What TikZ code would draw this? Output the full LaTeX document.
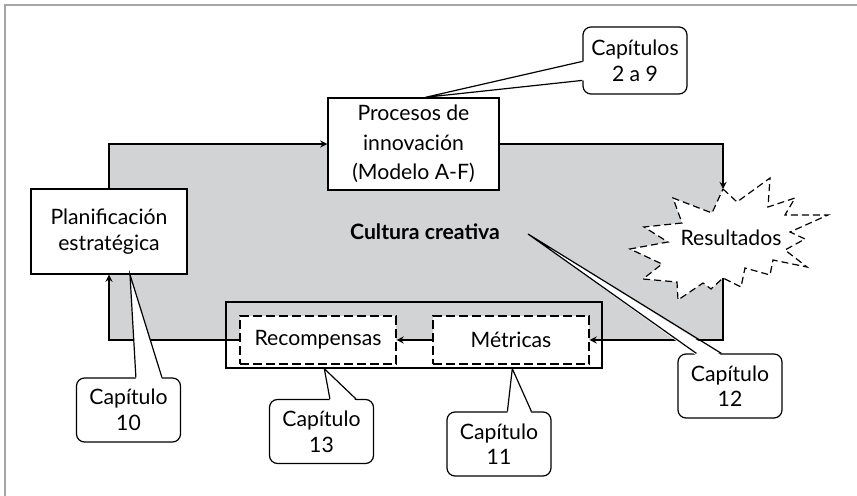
\documentclass[tikz,border=0pt]{standalone}
\usepackage{fontspec}
\setmainfont{Lato}
\usetikzlibrary{positioning,calc,backgrounds}

\definecolor{cultgray}{RGB}{210,211,213}
\definecolor{framegray}{RGB}{165,165,165}
\newcommand{\figfont}{\fontsize{10.6pt}{12.8pt}\selectfont}

\tikzset{
  box/.style={draw, fill=white, line width=0.7pt, align=center, inner sep=0pt},
  dashbox/.style={box, line width=0.6pt, dash pattern=on 4.5pt off 2pt},
  callbox/.style={draw, fill=white, rounded corners=4pt, line width=0.6pt,
    align=center, inner sep=0pt, minimum width=52pt, minimum height=32pt},
  burst/.style={draw, fill=white, line width=0.6pt, dash pattern=on 3.5pt off 2pt}
}

% white wedge from a callout box to its target
\newcommand{\calloutptr}[4]{%
  \fill[white] ($(#1)+#4$) -- (#2) -- ($(#3)+#4$) -- cycle;
  \draw[line width=0.6pt] (#1) -- (#2) -- (#3);}

\begin{document}
\begin{tikzpicture}[x=0.5pt, y=-0.5pt, >=stealth, line width=0.6pt, font=\figfont]
  \useasboundingbox (0,0) rectangle (857,496);
  \draw[framegray, line width=0.75pt] (5,496) -- (5,5) -- (857,5);

  % Nodes
  \node[box, minimum width=78pt, minimum height=42.5pt] (plan) at (109,231.5) {Planificación\\estratégica};
  \node[box, minimum width=85.5pt, minimum height=46pt] (proc) at (413.5,144) {Procesos de\\[2pt]innovación\\[2pt](Modelo A-F)};
  \node[draw, line width=0.7pt, minimum width=188pt, minimum height=33pt] (grp) at (414,335) {};
  \node[dashbox, minimum width=78pt, minimum height=24pt] (recomp) at (318,340) {Recompensas};
  \node[dashbox, minimum width=78pt, minimum height=24pt] (metr) at (511,340) {Métricas};
  \node[inner sep=0pt, font=\figfont\bfseries] (cult) at (425,232) {Cultura creativa};
  \node (res) at (731,238) {Resultados};
  \coordinate (res-top) at (723,189);
  \coordinate (res-bot) at (723,278);

  % Callouts
  \node[callbox, minimum height=33.5pt] (c29) at (635,60.5) {Capítulos\\2 a 9};
  \node[callbox] (c10) at (128.5,410) {Capítulo\\10};
  \node[callbox] (c13) at (321.5,431.5) {Capítulo\\13};
  \node[callbox] (c11) at (499,444) {Capítulo\\11};
  \node[callbox] (c12) at (730,386) {Capítulo\\12};

  % Background: culture area and burst
  \begin{scope}[on background layer]
    \fill[cultgray] (plan.north |- proc.west) rectangle (res-bot |- metr.east);
    \draw[burst] (res-top) -- (737,202) -- (770,178) -- (768,207) -- (795,198)
      -- (785,215) -- (828,215) -- (790,232) -- (805,239) -- (785,250)
      -- (807,267) -- (773,260) -- (770,275) -- (745,268) -- (741,287)
      -- (res-bot) -- (711,289) -- (703,283) -- (678,300) -- (677,282)
      -- (643,279) -- (662,264) -- (630,249) -- (668,242) -- (644,227)
      -- (682,223) -- (673,198) -- (712,213) -- cycle;
  \end{scope}

  % Cycle arrows
  \draw[->] (plan.north) |- (proc.west);
  \draw[->] (proc.east) -| (res-top);
  \draw[->] (res-bot) |- (metr.east);
  \draw[->] (metr.west) -- (recomp.east);
  \draw[->] (recomp.west) -| (plan.south);

  % Pointers
  \coordinate (proc-tip) at ($(proc.north)+(12,0)$);
  \coordinate (plan-tip) at ($(plan.south)+(21,0)$);
  \coordinate (grp-tip13) at ($(grp.south west)+(99,0)$);
  \coordinate (grp-tip11) at ($(grp.south west)+(287,0)$);
  \coordinate (cult-tip) at (528,234);
  \coordinate (p29a) at ($(c29.north west)+(0,35)$);
  \coordinate (p29b) at ($(c29.north west)+(0,54)$);
  \coordinate (p10a) at ($(c10.north west)+(60,0)$);
  \coordinate (p10b) at ($(c10.north west)+(86,0)$);
  \coordinate (p13a) at ($(c13.north west)+(61,0)$);
  \coordinate (p13b) at ($(c13.north west)+(87,0)$);
  \coordinate (p11a) at ($(c11.north west)+(61,0)$);
  \coordinate (p11b) at ($(c11.north west)+(85,0)$);
  \coordinate (p12a) at ($(c12.north west)+(19,0)$);
  \coordinate (p12b) at ($(c12.north west)+(44,0)$);
  \calloutptr{p29a}{proc-tip}{p29b}{(2,0)}
  \calloutptr{p10a}{plan-tip}{p10b}{(0,2)}
  \calloutptr{p13a}{grp-tip13}{p13b}{(0,2)}
  \calloutptr{p11a}{grp-tip11}{p11b}{(0,2)}
  \calloutptr{p12a}{cult-tip}{p12b}{(0,2)}
\end{tikzpicture}
\end{document}
